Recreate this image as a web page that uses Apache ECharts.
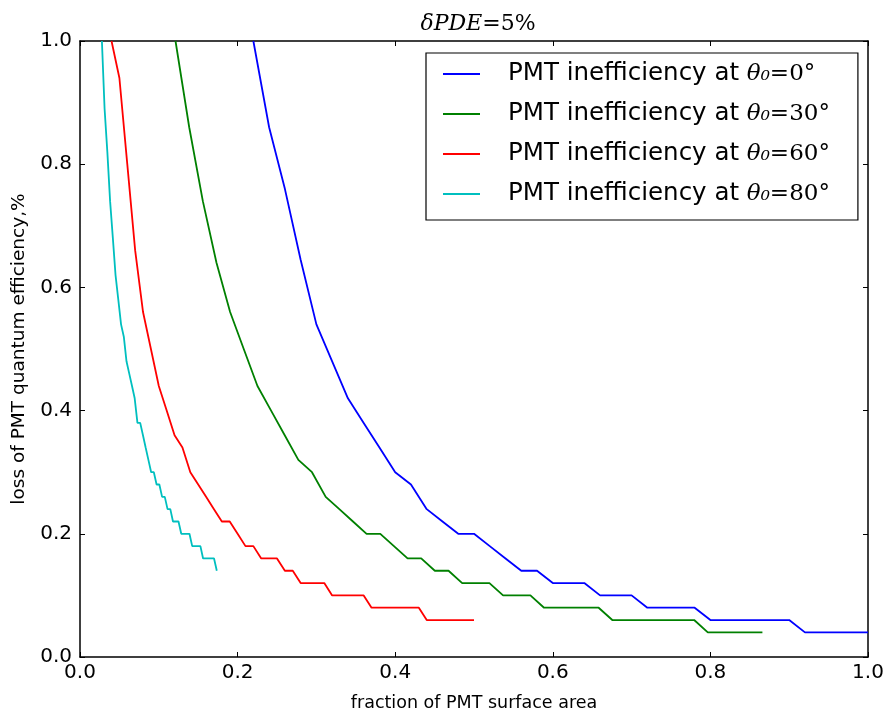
<!DOCTYPE html>
<html>
<head>
<meta charset="utf-8">
<script src="https://cdn.jsdelivr.net/npm/echarts@6/dist/echarts.min.js"></script>
<style>html,body{margin:0;padding:0;background:#fff;}#c{width:892px;height:713px;}</style>
</head>
<body>
<div id="c"></div>
<script>
const seriesNames = ['PMT inefficiency at θ₀=0°','PMT inefficiency at θ₀=30°','PMT inefficiency at θ₀=60°','PMT inefficiency at θ₀=80°'];
const legendAngles = ['0°','30°','60°','80°'];
const xTicks = [0.0,0.2,0.4,0.6,0.8,1.0];
const yTicks = [0.0,0.2,0.4,0.6,0.8,1.0];

const blueX = [0.22,0.24,0.26,0.28,0.30,0.32,0.34,0.36,0.38,0.40,0.42,0.44,0.46,0.48,0.50,0.52,0.54,0.56,0.58,0.60,0.62,0.64,0.66,0.68,0.70,0.72,0.74,0.76,0.78,0.80,0.82,0.84,0.86,0.88,0.90,0.92,0.94,0.96,0.98,1.00];
const blueY = [1.0,0.86,0.76,0.645,0.54,0.48,0.42,0.38,0.34,0.30,0.28,0.24,0.22,0.20,0.20,0.18,0.16,0.14,0.14,0.12,0.12,0.12,0.10,0.10,0.10,0.08,0.08,0.08,0.08,0.06,0.06,0.06,0.06,0.06,0.06,0.04,0.04,0.04,0.04,0.04];

const greenX = [0.1212,0.1386,0.1559,0.1732,0.1905,0.2078,0.2252,0.2425,0.2598,0.2771,0.2944,0.3118,0.3291,0.3464,0.3637,0.3811,0.3984,0.4157,0.4330,0.4503,0.4677,0.4850,0.5023,0.5196,0.5369,0.5543,0.5716,0.5889,0.6062,0.6235,0.6409,0.6582,0.6755,0.6928,0.7101,0.7274,0.7448,0.7621,0.7794,0.7967,0.8140,0.8314,0.8487,0.8660];
const greenY = [1.0,0.86,0.74,0.64,0.56,0.50,0.44,0.40,0.36,0.32,0.30,0.26,0.24,0.22,0.20,0.20,0.18,0.16,0.16,0.14,0.14,0.12,0.12,0.12,0.10,0.10,0.10,0.08,0.08,0.08,0.08,0.08,0.06,0.06,0.06,0.06,0.06,0.06,0.06,0.04,0.04,0.04,0.04,0.04];

const redX = [0.04,0.05,0.06,0.07,0.08,0.09,0.10,0.11,0.12,0.13,0.14,0.15,0.16,0.17,0.18,0.19,0.20,0.21,0.22,0.23,0.24,0.25,0.26,0.27,0.28,0.29,0.30,0.31,0.32,0.33,0.34,0.35,0.36,0.37,0.38,0.39,0.40,0.41,0.42,0.43,0.44,0.45,0.46,0.47,0.48,0.49,0.50];
const redY = [1.0,0.94,0.80,0.66,0.56,0.50,0.44,0.40,0.36,0.34,0.30,0.28,0.26,0.24,0.22,0.22,0.20,0.18,0.18,0.16,0.16,0.16,0.14,0.14,0.12,0.12,0.12,0.12,0.10,0.10,0.10,0.10,0.10,0.08,0.08,0.08,0.08,0.08,0.08,0.08,0.06,0.06,0.06,0.06,0.06,0.06,0.06];

const cyanX = [0.0278,0.0312,0.0347,0.0382,0.0417,0.0451,0.0486,0.0521,0.0556,0.0590,0.0625,0.0660,0.0694,0.0729,0.0764,0.0799,0.0833,0.0868,0.0903,0.0937,0.0972,0.1007,0.1042,0.1076,0.1111,0.1146,0.1180,0.1215,0.1250,0.1285,0.1319,0.1354,0.1389,0.1424,0.1458,0.1493,0.1528,0.1562,0.1597,0.1632,0.1667,0.1701,0.1736];
const cyanY = [1.0,0.89,0.82,0.74,0.68,0.62,0.58,0.54,0.52,0.48,0.46,0.44,0.42,0.38,0.38,0.36,0.34,0.32,0.30,0.30,0.28,0.28,0.26,0.26,0.24,0.24,0.22,0.22,0.22,0.20,0.20,0.20,0.20,0.18,0.18,0.18,0.18,0.16,0.16,0.16,0.16,0.16,0.14];

const colors = ['#0000ff','#008000','#ff0000','#00bfbf'];
const xs = [blueX, greenX, redX, cyanX];
const ys = [blueY, greenY, redY, cyanY];

const chart = echarts.init(document.getElementById('c'), null, {renderer:'canvas'});
const axisLineStyle = {color:'#000', width:1.5};
const fmt = v => v.toFixed(1);

const series = seriesNames.map((n,k)=>({
  name:n, type:'line', showSymbol:false, symbol:'none', clip:true,
  lineStyle:{color:colors[k], width:1.8}, itemStyle:{color:colors[k]},
  data: xs[k].map((x,i)=>[x, ys[k][i]]),
  xAxisIndex:0, yAxisIndex:0, animation:false
}));

chart.setOption({
  backgroundColor:'#fff',
  animation:false,
  title:{
    text:'{i|δPDE}{n|=5%}',
    left:473, textAlign:'center', top:8,
    textStyle:{fontWeight:'normal', rich:{
      i:{fontFamily:'DejaVu Serif', fontStyle:'italic', fontWeight:'normal', fontSize:22, color:'#000'},
      n:{fontFamily:'DejaVu Serif', fontWeight:'normal', fontSize:22, color:'#000'}
    }}
  },
  grid:{left:80, right:24, top:41, bottom:56, outerBoundsMode:'none', containLabel:false},
  legend:{
    orient:'vertical', left:426, top:53,
    icon:'rect', itemWidth:37, itemHeight:2, itemGap:10,
    borderColor:'#000', borderWidth:1.2, padding:[6,28,11,17],
    data: seriesNames,
    formatter: function(name){ const k = seriesNames.indexOf(name); return '{a|PMT inefficiency at }{b|θ₀}{c|=' + legendAngles[k] + '}'; },
    textStyle:{padding:[0,0,0,23], lineHeight:30, rich:{
      a:{fontFamily:'DejaVu Sans', fontSize:24.5, color:'#000', lineHeight:30},
      b:{fontFamily:'DejaVu Serif', fontStyle:'italic', fontSize:23, color:'#000', lineHeight:30},
      c:{fontFamily:'DejaVu Serif', fontSize:23, color:'#000', lineHeight:30}
    }}
  },
  xAxis:[{
    type:'value', min:0, max:1, interval:0.2, position:'bottom',
    name:'fraction of PMT surface area', nameLocation:'middle', nameGap:37,
    nameTextStyle:{fontFamily:'DejaVu Sans', fontSize:17.5, color:'#000'},
    axisLine:{show:true, onZero:false, lineStyle:axisLineStyle},
    axisTick:{show:true, inside:true, length:5, lineStyle:{color:'#000', width:1}},
    axisLabel:{formatter:fmt, fontFamily:'DejaVu Sans', fontSize:20, color:'#000', margin:6},
    splitLine:{show:false}
  },{
    type:'value', min:0, max:1, interval:0.2, position:'top',
    axisLine:{show:true, onZero:false, lineStyle:axisLineStyle},
    axisTick:{show:true, inside:true, length:5, lineStyle:{color:'#000', width:1}},
    axisLabel:{show:false}, splitLine:{show:false}
  }],
  yAxis:[{
    type:'value', min:0, max:1, interval:0.2, position:'left',
    name:'loss of PMT quantum efficiency,%', nameLocation:'middle', nameGap:51, nameRotate:90,
    nameTextStyle:{fontFamily:'DejaVu Sans', fontSize:18.5, color:'#000'},
    axisLine:{show:true, onZero:false, lineStyle:axisLineStyle},
    axisTick:{show:true, inside:true, length:5, lineStyle:{color:'#000', width:1}},
    axisLabel:{formatter:fmt, fontFamily:'DejaVu Sans', fontSize:20, color:'#000', margin:8},
    splitLine:{show:false}
  },{
    type:'value', min:0, max:1, interval:0.2, position:'right',
    axisLine:{show:true, onZero:false, lineStyle:axisLineStyle},
    axisTick:{show:true, inside:true, length:5, lineStyle:{color:'#000', width:1}},
    axisLabel:{show:false}, splitLine:{show:false}
  }],
  series: series
});
</script>
</body>
</html>
